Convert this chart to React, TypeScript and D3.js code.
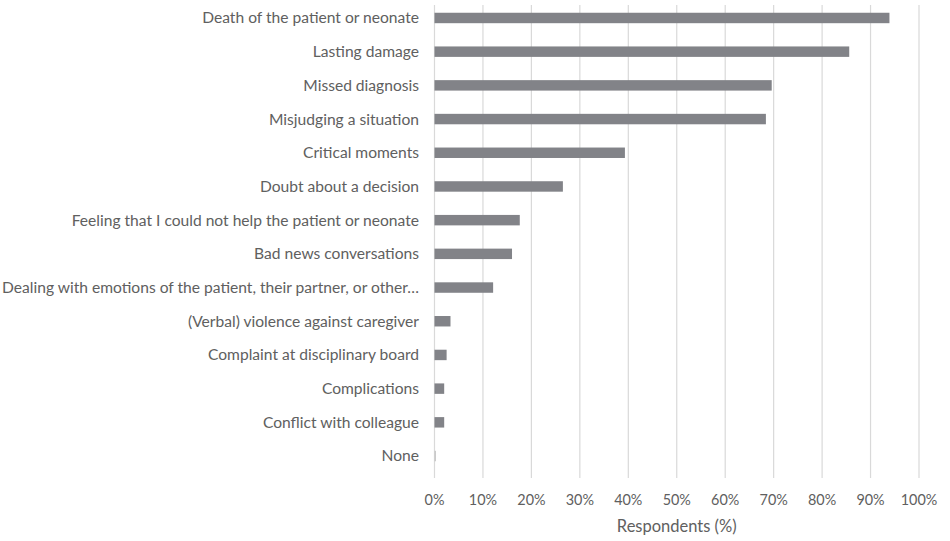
import React from "react";
import * as d3 from "d3";

const categories = [
  "Death of the patient or neonate",
  "Lasting damage",
  "Missed diagnosis",
  "Misjudging a situation",
  "Critical moments",
  "Doubt about a decision",
  "Feeling that I could not help the patient or neonate",
  "Bad news conversations",
  "Dealing with emotions of the patient, their partner, or other…",
  "(Verbal) violence against caregiver",
  "Complaint at disciplinary board",
  "Complications",
  "Conflict with colleague",
  "None",
];
const values = [93.9, 85.6, 69.6, 68.4, 39.3, 26.5, 17.6, 16.0, 12.1, 3.3, 2.5, 2.0, 2.0, 0.3];
const ticks = [0, 10, 20, 30, 40, 50, 60, 70, 80, 90, 100];
const xTitle = "Respondents (%)";

export default function App() {
  const W = 950, H = 541;
  const left = 434.5, right = 919, top = 5, bottom = 478;
  const x = d3.scaleLinear().domain([0, 100]).range([left, right]);
  const y = d3.scaleBand<string>().domain(categories).range([top, 469]).paddingInner(0.69).paddingOuter(0.23);
  const font = "Lato, 'Open Sans', sans-serif";
  const textColor = "#606060";
  return (
    <svg width={W} height={H} style={{ position: "absolute", left: 0, top: 0, background: "#fff" }}>
      {ticks.map((t) => (
        <line key={"g" + t} x1={x(t)} x2={x(t)} y1={top} y2={bottom} stroke="#d9d9d9" strokeWidth={1.2} />
      ))}
      {categories.map((c, i) => (
        <rect key={c} x={x(0)} y={y(c)!} width={Math.max(0, x(values[i]) - x(0))} height={y.bandwidth()}
          fill={c === "None" ? "#c8c8c8" : "#828388"} />
      ))}
      {categories.map((c) => (
        <text key={"l" + c} x={419} y={y(c)! + y.bandwidth() / 2} dy="0.35em" textAnchor="end"
          fontFamily={font} fontSize={15.6} fill={textColor}>{c}</text>
      ))}
      {ticks.map((t) => (
        <text key={"t" + t} x={x(t)} y={505} textAnchor="middle" fontFamily={font} fontSize={14.4} fill={textColor}>{t + "%"}</text>
      ))}
      <text x={x(50)} y={532} textAnchor="middle" fontFamily={font} fontSize={16.5} fill={textColor}>{xTitle}</text>
    </svg>
  );
}
